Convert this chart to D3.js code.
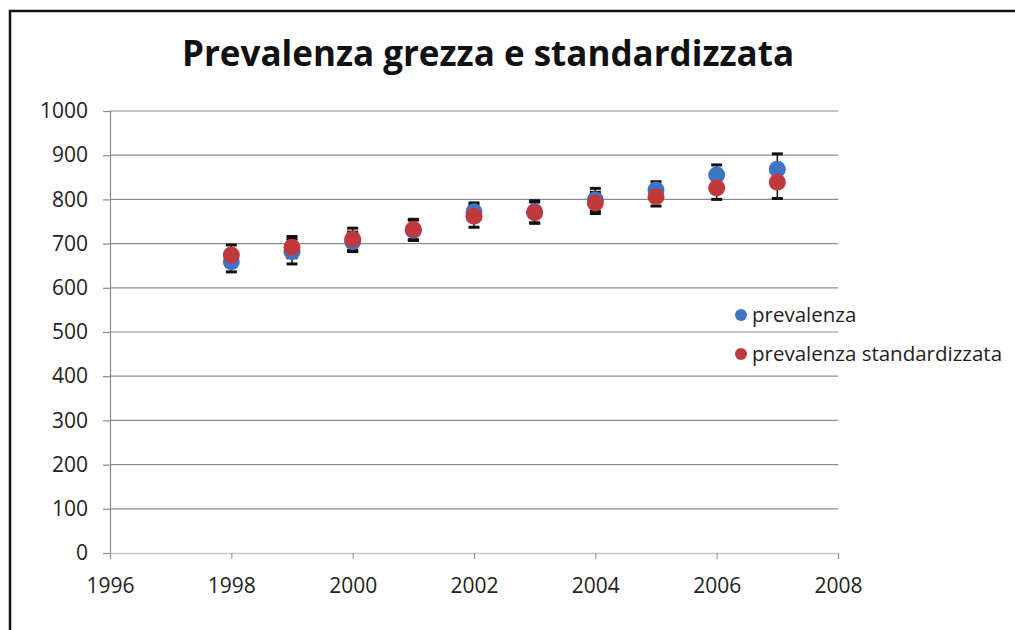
<!DOCTYPE html>
<html>
<head>
<meta charset="utf-8">
<script src="https://cdn.jsdelivr.net/npm/d3@7"></script>
<style>
  body { margin: 0; background: #fff; }
  svg { display: block; font-family: "Open Sans", sans-serif; }
</style>
</head>
<body>
<div id="chart"></div>
<script>
// data
const years      = [1998, 1999, 2000, 2001, 2002, 2003, 2004, 2005, 2006, 2007]
const prevalenza = [659, 682, 704, 730, 772, 772, 799, 821, 855, 868]
const prevErr    = [23, 28, 22, 23, 20, 25, 26, 19, 23, 35]
const standard   = [674, 692, 710, 732, 762, 770, 792, 806, 826, 839]
const standErr   = [23, 24, 25, 23, 25, 24, 24, 21, 26, 37]
const xTicks     = [1996, 1998, 2000, 2002, 2004, 2006, 2008]
const yTicks     = [0, 100, 200, 300, 400, 500, 600, 700, 800, 900, 1000]
const seriesNames = ['prevalenza', 'prevalenza standardizzata']

var width   = 1015,
    height  = 630,
    plot    = { left: 110, right: 838, top: 111, bottom: 553 },
    radius  = 8.5,
    capW    = 5.5,
    colors  = ['#3f74c4', '#c0393d']

const svg = d3.select('#chart')
  .append('svg')
  .attr('width', width)
  .attr('height', height)

// outer frame
svg.append('path')
  .attr('d', `M10,${height + 5} V11 H${width + 5}`)
  .attr('fill', 'none')
  .attr('stroke', '#111')
  .attr('stroke-width', 2.5)

svg.append('text')
  .attr('x', 488)
  .attr('y', 66)
  .attr('text-anchor', 'middle')
  .attr('font-size', 35)
  .attr('font-weight', 'bold')
  .attr('fill', '#111')
  .text('Prevalenza grezza e standardizzata')

// scales
var scale = {}
scale.x = d3.scaleLinear().domain([1996, 2008]).range([plot.left, plot.right])
scale.y = d3.scaleLinear().domain([0, 1000]).range([plot.bottom, plot.top])

// gridlines
svg.append('g')
  .selectAll('line')
  .data(yTicks.filter(d => d > 0))
  .enter()
  .append('line')
    .attr('x1', plot.left)
    .attr('x2', plot.right)
    .attr('y1', d => scale.y(d))
    .attr('y2', d => scale.y(d))
    .attr('stroke', '#8c8c8c')
    .attr('stroke-width', 1.2)

// y axis
const yAxis = svg.append('g')
  .attr('transform', `translate(${plot.left},0)`)
  .call(d3.axisLeft(scale.y).tickValues(yTicks).tickSize(7).tickPadding(15).tickFormat(d3.format('d')))
yAxis.select('.domain').attr('stroke', '#8c8c8c').attr('stroke-width', 1.2)
yAxis.selectAll('.tick line').attr('stroke', '#8c8c8c').attr('stroke-width', 1.2)
yAxis.selectAll('.tick text').attr('font-size', 21).attr('fill', '#222').attr('font-family', '"Open Sans", sans-serif')

// x axis
const xAxis = svg.append('g')
  .attr('transform', `translate(0,${plot.bottom})`)
  .call(d3.axisBottom(scale.x).tickValues(xTicks).tickSize(6).tickPadding(19).tickFormat(d3.format('d')))
xAxis.select('.domain').attr('stroke', '#c8c8c8').attr('stroke-width', 1.5)
xAxis.selectAll('.tick line').attr('stroke', '#8c8c8c')
xAxis.selectAll('.tick text').attr('font-size', 21).attr('fill', '#222').attr('font-family', '"Open Sans", sans-serif')

// series
const series = [
  { name: seriesNames[0], values: prevalenza, err: prevErr, color: colors[0] },
  { name: seriesNames[1], values: standard, err: standErr, color: colors[1] }
]

// error bars first, markers above them
series.forEach(s => {
  const pts = years.map((y, i) => ({ year: y, v: s.values[i], e: s.err[i] }))
  const eb = svg.append('g')
    .attr('stroke', '#111')
    .selectAll('g')
    .data(pts)
    .enter()
    .append('g')
  eb.append('line')
    .attr('x1', d => scale.x(d.year))
    .attr('x2', d => scale.x(d.year))
    .attr('y1', d => scale.y(d.v + d.e))
    .attr('y2', d => scale.y(d.v - d.e))
    .attr('stroke-width', 1.5)
  eb.append('line')
    .attr('x1', d => scale.x(d.year) - capW)
    .attr('x2', d => scale.x(d.year) + capW)
    .attr('y1', d => scale.y(d.v + d.e))
    .attr('y2', d => scale.y(d.v + d.e))
    .attr('stroke-width', 3)
  eb.append('line')
    .attr('x1', d => scale.x(d.year) - capW)
    .attr('x2', d => scale.x(d.year) + capW)
    .attr('y1', d => scale.y(d.v - d.e))
    .attr('y2', d => scale.y(d.v - d.e))
    .attr('stroke-width', 3)
})

series.forEach(s => {
  svg.append('g')
    .selectAll('circle')
    .data(years.map((y, i) => ({ year: y, v: s.values[i] })))
    .enter()
    .append('circle')
      .attr('cx', d => scale.x(d.year))
      .attr('cy', d => scale.y(d.v))
      .attr('r', radius)
      .attr('fill', s.color)
})

// legend
const legend = svg.append('g')
  .selectAll('g')
  .data(series)
  .enter()
  .append('g')
    .attr('transform', (d, i) => `translate(741,${315 + i * 39})`)
legend.append('circle')
  .attr('r', 6)
  .attr('fill', d => d.color)
legend.append('text')
  .attr('x', 11)
  .attr('y', 6.5)
  .attr('font-size', 20.5)
  .attr('fill', '#222')
  .text(d => d.name)
</script>
</body>
</html>
